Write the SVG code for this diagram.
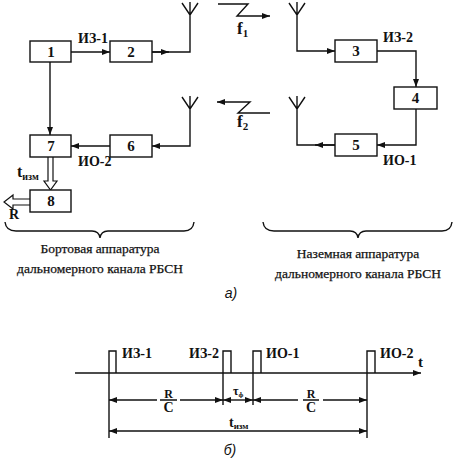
<svg xmlns="http://www.w3.org/2000/svg" width="469" height="458" viewBox="0 0 469 458">
<style>
.b{fill:#fff;stroke:#111;stroke-width:1.4}
.l{fill:none;stroke:#111;stroke-width:1.4}
.h{fill:#fff;stroke:#111;stroke-width:1.2}
text{font-family:"Liberation Serif","Times New Roman","DejaVu Serif",serif}
.n{font-size:15px;font-weight:bold;fill:#111;text-anchor:middle}
.t{font-size:14px;font-weight:bold;fill:#111}
.c{font-size:13.5px;fill:#111;text-anchor:middle;stroke:#111;stroke-width:0.25}
.i{font-family:"Liberation Sans",Arial,sans-serif;font-size:14px;font-style:italic;fill:#111;text-anchor:middle}
</style>
<defs>
<marker id="a" viewBox="0 0 8 6" refX="8" refY="3" markerWidth="8" markerHeight="6" markerUnits="userSpaceOnUse" orient="auto-start-reverse"><path d="M0,0 L8,3 L0,6 z" fill="#111"/></marker>
</defs>
<rect width="469" height="458" fill="#fff"/>
<g id="connectors">
<path class="l" d="M71,52 H110" marker-end="url(#a)"/>
<path class="l" d="M152,52 H190 V2 M182,3 L190,15 L198,3"/>
<path class="l" d="M152,52 H169" marker-end="url(#a)"/>
<path class="l" d="M50,62 V135" marker-end="url(#a)"/>
<path class="l" d="M182,97 L190,109 L198,97 M190,96 V146 H152" marker-end="url(#a)"/>
<path class="l" d="M110,146 H71" marker-end="url(#a)"/>
<path class="l" d="M289,3 L297,15 L305,3 M297,2 V51 H335" marker-end="url(#a)"/>
<path class="l" d="M377,51 H416 V87" marker-end="url(#a)"/>
<path class="l" d="M416,109 V145 H377" marker-end="url(#a)"/>
<path class="l" d="M335,145 H297 V96 M289,97 L297,109 L305,97"/>
<path class="l" d="M335,145 H315" marker-end="url(#a)"/>
<path class="h" d="M48,157 V181 H44 L50.5,190 L57,181 H53 V157"/>
<path class="h" d="M30,199 H13 V195 L4,202 L13,209 V205 H30"/>
<path class="l" d="M218,4 H248 L237,16 H270" marker-end="url(#a)"/>
<path class="l" d="M270,113 H238 L250,102 H217" marker-end="url(#a)"/>
</g>
<g id="node1"><rect class="b" x="30" y="41" width="41" height="21"/><text class="n" x="51" y="57">1</text></g>
<g id="node2"><rect class="b" x="110" y="41" width="42" height="21"/><text class="n" x="131" y="57">2</text></g>
<g id="node3"><rect class="b" x="335" y="40" width="42" height="22"/><text class="n" x="356" y="56">3</text></g>
<g id="node4"><rect class="b" x="394" y="87" width="43" height="22"/><text class="n" x="415.5" y="103">4</text></g>
<g id="node5"><rect class="b" x="335" y="134" width="42" height="22"/><text class="n" x="356" y="150">5</text></g>
<g id="node6"><rect class="b" x="110" y="135" width="42" height="22"/><text class="n" x="131" y="151">6</text></g>
<g id="node7"><rect class="b" x="30" y="135" width="41" height="22"/><text class="n" x="51" y="151">7</text></g>
<g id="node8"><rect class="b" x="30" y="190" width="41" height="22"/><text class="n" x="51" y="206">8</text></g>
<g id="labels">
<text class="t" x="78" y="43">ИЗ-1</text>
<text class="t" x="78" y="166">ИО-2</text>
<text class="t" x="383" y="42">ИЗ-2</text>
<text class="t" x="383" y="165">ИО-1</text>
<text class="t" x="17" y="177" style="font-size:16px">t<tspan style="font-size:10px" dy="3">изм</tspan></text>
<text class="t" x="9" y="219">R</text>
<text class="t" x="237" y="34" style="font-size:17px">f<tspan style="font-size:11px" dy="3">1</tspan></text>
<text class="t" x="237" y="127" style="font-size:17px">f<tspan style="font-size:11px" dy="3">2</tspan></text>
</g>
<g id="braces">
<path class="l" d="M5,222 Q6,231 16,231 H92 Q99,231 100,238 Q101,231 108,231 H184 Q193,231 194,222"/>
<path class="l" d="M263,222 Q264,231 274,231 H350 Q357,231 358,238 Q359,231 366,231 H442 Q451,231 452,222"/>
<text class="c" x="100" y="253">Бортовая аппаратура</text>
<text class="c" x="100" y="273">дальномерного канала РБСН</text>
<text class="c" x="358" y="258">Наземная аппаратура</text>
<text class="c" x="358" y="278">дальномерного канала РБСН</text>
<text class="i" x="231" y="298">а)</text>
</g>
<g id="timeline">
<path class="l" d="M75,373 H421" marker-end="url(#a)"/>
<path class="l" d="M109,373 V351 H116 V373 M223,373 V351 H231 V373 M253,373 V351 H261 V373 M367,373 V351 H375 V373"/>
<path class="l" d="M109,373 V438 M223,373 V405 M253,373 V405 M367,373 V438"/>
<path class="l" d="M109,400 H157" marker-start="url(#a)"/>
<path class="l" d="M180,400 H223" marker-end="url(#a)"/>
<path class="l" d="M160,400 H177 M303,400 H319"/>
<path class="l" d="M223,400 H253" marker-start="url(#a)" marker-end="url(#a)"/>
<path class="l" d="M253,400 H298" marker-start="url(#a)"/>
<path class="l" d="M323,400 H367" marker-end="url(#a)"/>
<path class="l" d="M109,431 H367" marker-start="url(#a)" marker-end="url(#a)"/>
<text class="t" x="122" y="358">ИЗ-1</text>
<text class="t" x="189" y="358">ИЗ-2</text>
<text class="t" x="266" y="358">ИО-1</text>
<text class="t" x="380" y="358">ИО-2</text>
<text class="t" x="418" y="367" style="font-size:15px">t</text>
<text class="n" x="168.5" y="398" style="font-size:12px">R</text>
<text class="n" x="168.5" y="412" style="font-size:14px">C</text>
<text class="n" x="311" y="398" style="font-size:12px">R</text>
<text class="n" x="311" y="412" style="font-size:14px">C</text>
<text class="t" x="233" y="395" style="font-size:12px">τ<tspan style="font-size:7px" dy="2">ф</tspan></text>
<text class="t" x="229" y="427" style="font-size:14px">t<tspan style="font-size:9px" dy="2">изм</tspan></text>
<text class="i" x="230" y="455">б)</text>
</g>
</svg>
